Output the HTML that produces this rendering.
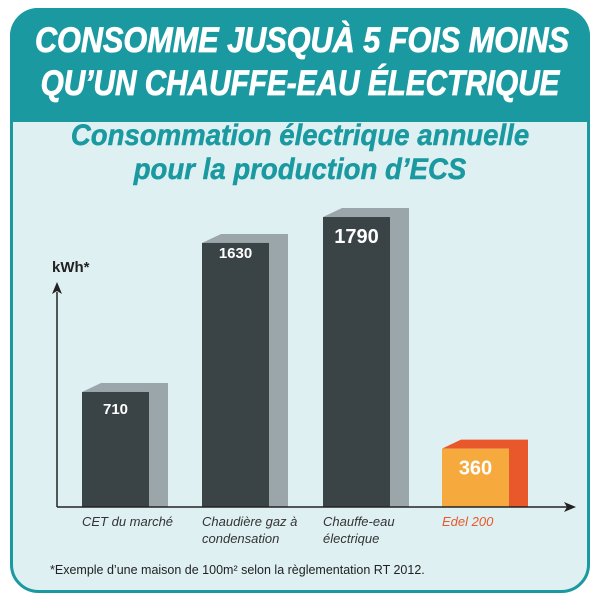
<!DOCTYPE html>
<html><head><meta charset="utf-8"><style>
body{margin:0;width:600px;height:600px;background:#fff;overflow:hidden;font-family:"Liberation Sans",sans-serif}
</style></head><body>
<svg width="600" height="600">
<defs><clipPath id="c"><rect x="10" y="8" width="580" height="585" rx="28"/></clipPath></defs>
<g clip-path="url(#c)">
<rect x="10" y="8" width="580" height="585" fill="#dff0f3"/>
<rect x="10" y="8" width="580" height="114" fill="#1a9aa0"/>
</g>
<rect x="11.5" y="9.5" width="577" height="582" rx="27" fill="none" stroke="#1a9aa0" stroke-width="3"/>
<g font-weight="bold" font-style="italic" fill="#fff" font-size="35" text-anchor="middle" stroke="#fff" stroke-width="0.8">
<text x="302" y="52" transform="translate(302 0) scale(0.875 1) translate(-302 0)">CONSOMME JUSQUÀ 5 FOIS MOINS</text>
<text x="300" y="95" transform="translate(300 0) scale(0.85 1) translate(-300 0)">QU’UN CHAUFFE-EAU ÉLECTRIQUE</text>
</g>
<g font-weight="bold" font-style="italic" fill="#1a9aa0" font-size="30" text-anchor="middle" stroke="#1a9aa0" stroke-width="0.5">
<text x="300" y="145" transform="translate(300 0) scale(0.92 1) translate(-300 0)">Consommation électrique annuelle</text>
<text x="300" y="179" transform="translate(300 0) scale(0.92 1) translate(-300 0)">pour la production d’ECS</text>
</g>
<text x="52" y="272" font-weight="bold" font-size="15" fill="#222">kWh*</text>
<line x1="57" y1="507" x2="57" y2="292" stroke="#222" stroke-width="1.5"/>
<polygon points="57,282 52,294 57,291 62,294" fill="#222"/>
<g id="bars"></g>
<line x1="57" y1="507" x2="568" y2="507" stroke="#222" stroke-width="1.5"/>
<polygon points="576,507 564,502 567,507 564,512" fill="#222"/>
<g id="labels" font-style="italic" font-size="13" fill="#333"></g>
<text x="50" y="574" font-size="12.5" fill="#222">*Exemple d’une maison de 100m² selon la règlementation RT 2012.</text>
</svg>
<script>
const categories=["CET du marché","Chaudière gaz à|condensation","Chauffe-eau|électrique","Edel 200"];
const values=[710,1630,1790,360];
const highlight=[false,false,false,true];
const ns="http://www.w3.org/2000/svg";
const base=507,scale=0.162;
const xs=[82,202,323,442];
function y(v){return base-v*scale;}
const g=document.getElementById('bars'),lg=document.getElementById('labels');
function mk(tag,attrs,parent){const e=document.createElementNS(ns,tag);for(const k in attrs)e.setAttribute(k,attrs[k]);parent.appendChild(e);return e;}
values.forEach((v,i)=>{
  const x=xs[i],t=y(v),w=67,d=19,o=9;
  const hl=highlight[i];
  const side=hl?"#e8582a":"#9ba6ab",front=hl?"#f6aa3e":"#3a4346";
  const s=mk('polygon',{points:`${x},${t} ${x+d},${t-o} ${x+w+d},${t-o} ${x+w+d},${base} ${x+w},${base} ${x+w},${t}`,fill:side},g);
  
  
  const r=mk('rect',{x:x,y:t,width:w,height:base-t,fill:front},g);
  
  
  const big=(i==2||i==3);
  const tx=mk('text',{x:x+w/2,y:t+(big?26:(i==1?15:22)),'text-anchor':'middle','font-weight':'bold','font-size':big?20:15,fill:'#fff'},g);
  tx.textContent=v;
  
  
  const lines=categories[i].split('|');
  lines.forEach((ln,j)=>{
    const lt=mk('text',{x:x,y:526+j*17,fill:hl?'#e8582a':'#333'},lg);
    lt.textContent=ln;
    
    
  });
});
</script>
</body></html>
